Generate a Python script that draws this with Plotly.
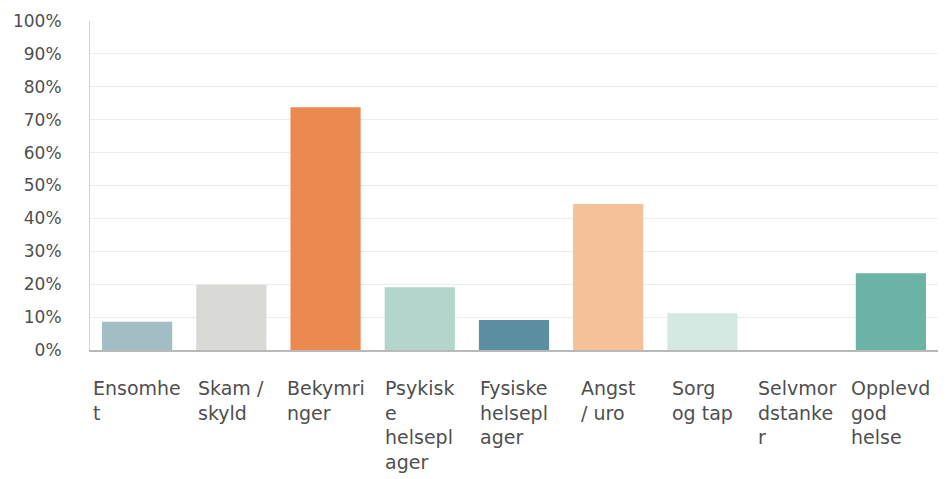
import plotly.graph_objects as go

# kategorier (linjeskift slik de står i figuren)
categories = ["Ensomhet", "Skam / skyld", "Bekymringer", "Psykiske helseplager",
              "Fysiske helseplager", "Angst / uro", "Sorg og tap",
              "Selvmordstanker", "Opplevd god helse"]
label_lines = ["Ensomhe<br>t", "Skam /<br>skyld", "Bekymri<br>nger",
               "Psykisk<br>e<br>helsepl<br>ager", "Fysiske<br>helsepl<br>ager",
               "Angst<br>/ uro", "Sorg<br>og tap", "Selvmor<br>dstanke<br>r",
               "Opplevd<br>god<br>helse"]
values = [8.6, 19.8, 73.8, 19.1, 9.1, 44.4, 11.2, 0.0, 23.3]
colors = ["#a3bdc5", "#d9dad6", "#ea8a4f", "#b3d6cc", "#5b8fa1",
          "#f4c199", "#d5e8e1", "#c9d9d4", "#6bb4a5"]
y_ticks = list(range(0, 101, 10))
y_tick_labels = [f"{v}%" for v in y_ticks]

TEXT = "#4f4f4f"
FONT = "DejaVu Sans"

fig = go.Figure(go.Bar(
    x=categories,
    y=values,
    marker=dict(color=colors, line=dict(width=0)),
    hoverinfo="x+y",
))

# x-etiketter som annotasjoner: blokken sentrert, linjene venstrejustert
for cat, lab in zip(categories, label_lines):
    fig.add_annotation(
        x=cat, y=0, xref="x", yref="paper",
        text=lab, showarrow=False,
        xanchor="center", yanchor="top", align="left",
        yshift=-25,
        font=dict(family=FONT, size=19, color=TEXT),
    )

# siden har 8px body-marg, så figuren flyttes 8px inn
fig.update_layout(
    width=936, height=471,
    margin=dict(l=82, r=6, t=13, b=129, autoexpand=False),
    paper_bgcolor="white", plot_bgcolor="white",
    bargap=0.255,
    showlegend=False,
    font=dict(family=FONT, color=TEXT),
)
fig.update_xaxes(
    showticklabels=False, showgrid=False,
    showline=True, linecolor="#b9b9b9", linewidth=1.5,
    ticks="", automargin=False,
)
fig.update_yaxes(
    range=[0, 100], tickmode="array", tickvals=y_ticks, ticktext=y_tick_labels,
    tickfont=dict(family=FONT, size=17, color=TEXT),
    showgrid=True, gridcolor="#ececec", gridwidth=1,
    showline=True, linecolor="#d5d5d5", linewidth=1,
    zeroline=False, ticks="", ticklabelstandoff=24, automargin=False,
)

fig.write_html("out.html")
